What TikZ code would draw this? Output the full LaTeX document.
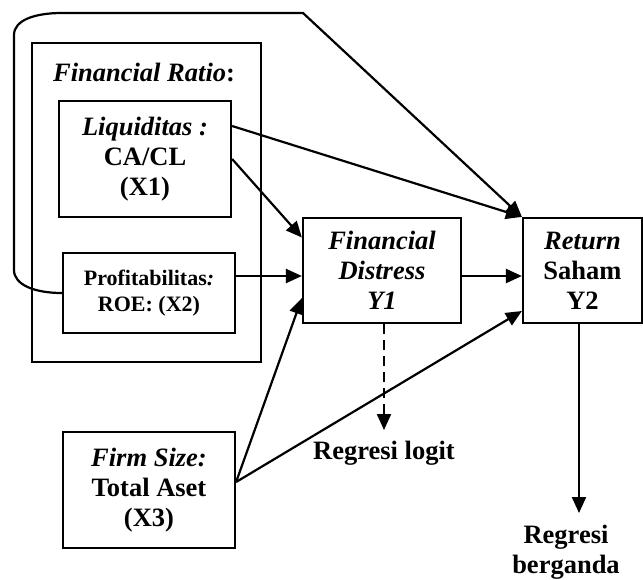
\documentclass[tikz,border=0pt]{standalone}
\usepackage{fontspec}
\setmainfont{Liberation Serif}
\usetikzlibrary{arrows.meta}

\tikzset{
  box/.style={draw, line width=2.2pt, rectangle, inner sep=0pt, align=center,
    font=\fontsize{26.5}{30}\selectfont\bfseries},
  smallbox/.style={box, font=\fontsize{22}{26}\selectfont\bfseries},
  lbl/.style={inner sep=0pt, align=center,
    font=\fontsize{26.5}{30}\selectfont\bfseries},
  conn/.style={line width=2.2pt},
  arr/.style={conn, -{Triangle[length=16pt,width=14pt]}},
  dasharr/.style={arr, dash pattern=on 10pt off 6pt}
}

\begin{document}
\begin{tikzpicture}[x=1pt, y=-1pt]
  \useasboundingbox (0,0) rectangle (643,579);

  % outer group of ratios
  \node[box, minimum width=229, minimum height=319] (ratio) at (146.5,202.5) {};
  \node[lbl] (ratiolbl) at (144,72) {\textit{Financial Ratio}:};

  % independent variables
  \node[box, minimum width=172, minimum height=116] (liq) at (145,159)
    {\textit{Liquiditas :}\\CA/CL\\(X1)};
  \node[smallbox, minimum width=172, minimum height=80] (pro) at (149,293)
    {Profitabilitas\textit{:}\\ROE: (X2)};
  \node[box, minimum width=172, minimum height=116] (firm) at (149,490)
    {\textit{Firm Size:}\\Total Aset\\(X3)};

  % dependent variables
  \node[box, minimum width=158, minimum height=105] (dis) at (382,270.5)
    {\textit{Financial}\\\textit{Distress}\\\textit{Y1}};
  \node[box, minimum width=119, minimum height=105] (ret) at (582.5,270.5)
    {\textit{Return}\\Saham\\Y2};

  % method labels
  \node[lbl, anchor=north] (logit) at (384,441) {Regresi logit};
  \node[lbl, anchor=north] (berg) at (566,525) {Regresi\\berganda};

  % loop from profitability to return
  \coordinate (loopturn) at (303,13);
  \draw[arr] (pro.west) .. controls (35,293) and (14,285) .. (14,270)
    -- (14,35) .. controls (14,20) and (35,13) .. (62,13)
    -- (loopturn) -- (ret.north west);

  % paths
  \draw[arr] ([yshift=33pt]liq.east) -- (ret.north west);
  \draw[arr] (liq.east) -- ([yshift=33pt]dis.west);
  \draw[arr] ([yshift=17pt]pro.east) -- ([yshift=-5.5pt]dis.west);
  \draw[arr] ([yshift=-5.5pt]dis.east) -- ([yshift=-5.5pt]ret.west);
  \draw[arr] ([yshift=8pt]firm.east) -- ([yshift=-27.5pt]dis.west);
  \draw[arr] ([yshift=8pt]firm.east) -- ([yshift=-40.5pt]ret.west);

  % analysis outputs
  \draw[dasharr] ([xshift=2pt]dis.south) -- ([yshift=11pt]logit.north);
  \draw[arr] ([xshift=-3.5pt]ret.south) -- ([xshift=13pt,yshift=12pt]berg.north);
\end{tikzpicture}
\end{document}
